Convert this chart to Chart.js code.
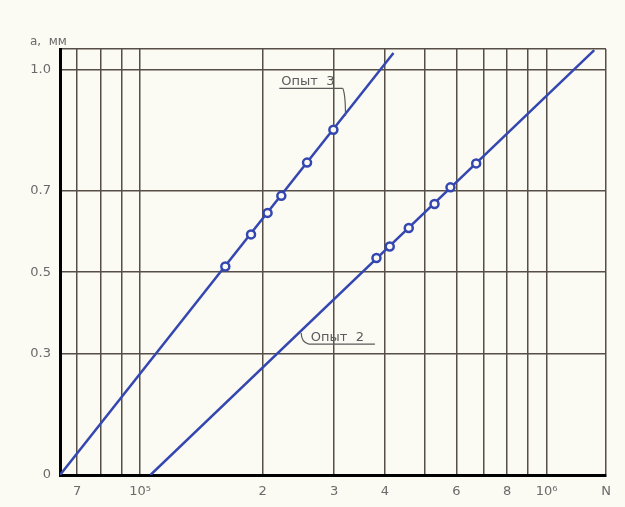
<!DOCTYPE html>
<html>
<head>
<meta charset="utf-8">
<script src="https://cdn.jsdelivr.net/npm/chart.js@4.4.1/dist/chart.umd.min.js"></script>
<style>
  html, body { margin: 0; background: #fbfaf3; }
  canvas { display: block; }
</style>
</head>
<body>
<canvas id="chart" width="625" height="507"></canvas>
<script>
// tick positions and labels
const xTicks = [7e4, 8e4, 9e4, 1e5, 2e5, 3e5, 4e5, 5e5, 6e5, 7e5, 8e5, 9e5, 1e6, 1.4e6];
const xTickLabels = ["7", "", "", "10⁵", "2", "3", "4", "", "6", "", "8", "", "10⁶", "N"];
const yTicks = [0, 0.3, 0.5, 0.7, 1.0, 1.05];
const yTickLabels = ["0", "0.3", "0.5", "0.7", "1.0", ""];

// Опыт 3 measured points
const exp3N = [1.62e5, 1.874e5, 2.058e5, 2.225e5, 2.574e5, 2.988e5];
const exp3A = [0.514, 0.593, 0.646, 0.688, 0.770, 0.851];
// Опыт 3 fitted line (end points)
const fit3N = [6.35e4, 4.2e5];
const fit3A = [0, 1.04];

// Опыт 2 measured points
const exp2N = [3.814e5, 4.112e5, 4.58e5, 5.30e5, 5.80e5, 6.71e5];
const exp2A = [0.535, 0.563, 0.609, 0.668, 0.709, 0.768];
// Опыт 2 fitted line (end points)
const fit2N = [1.06e5, 1.31e6];
const fit2A = [0, 1.047];

const toXY = (xs, ys) => xs.map((x, i) => ({ x: x, y: ys[i] }));

const blue = "#3447b0";
const gridColor = "#574e47";

// callout labels: underline from x1 to x2 at y, leader to (tx, ty)
const callouts = [
  { text: "Опыт  3", x1: 2.2e5, x2: 3.15e5, y: 0.953, tx: 3.2e5, ty: 0.885, hookAt: "end" },
  { text: "Опыт  2", x1: 2.6e5, x2: 3.78e5, y: 0.3225, tx: 2.49e5, ty: 0.35, hookAt: "start" }
];

const extras = {
  id: "extras",
  afterDatasetsDraw(chart) {
    const { ctx, scales: { x, y }, chartArea } = chart;
    ctx.save();
    ctx.fillStyle = "#5a5a5a";
    ctx.strokeStyle = "#5a5a5a";
    ctx.lineWidth = 1.2;
    ctx.font = "13px 'DejaVu Sans', sans-serif";
    ctx.textBaseline = "alphabetic";
    callouts.forEach(c => {
      const px1 = x.getPixelForValue(c.x1);
      const px2 = x.getPixelForValue(c.x2);
      const py = y.getPixelForValue(c.y);
      const tx = x.getPixelForValue(c.tx);
      const ty = y.getPixelForValue(c.ty);
      ctx.textAlign = "left";
      ctx.fillText(c.text, px1 + 2, py - 3);
      ctx.beginPath();
      ctx.moveTo(px1, py);
      ctx.lineTo(px2, py);
      ctx.stroke();
      const sx = c.hookAt === "end" ? px2 : px1;
      ctx.beginPath();
      ctx.moveTo(sx, py);
      ctx.quadraticCurveTo(tx, py + (ty - py) * 0.2, tx, ty);
      ctx.stroke();
    });
    // axis title
    ctx.font = "12px 'DejaVu Sans', sans-serif";
    ctx.fillStyle = "#6a6a6a";
    ctx.textAlign = "left";
    ctx.fillText("a,  мм", chartArea.left - 30, chartArea.top - 4);
    ctx.restore();
  }
};

new Chart(document.getElementById("chart"), {
  type: "scatter",
  data: {
    datasets: [
      {
        label: "Опыт 3",
        data: toXY(exp3N, exp3A),
        showLine: false,
        pointRadius: 4,
        pointBorderWidth: 2.5,
        pointBackgroundColor: "#fbfaf3",
        pointBorderColor: blue,
        order: 0
      },
      {
        label: "Опыт 2",
        data: toXY(exp2N, exp2A),
        showLine: false,
        pointRadius: 4,
        pointBorderWidth: 2.5,
        pointBackgroundColor: "#fbfaf3",
        pointBorderColor: blue,
        order: 0
      },
      {
        label: "fit 3",
        data: toXY(fit3N, fit3A),
        showLine: true,
        pointRadius: 0,
        borderColor: blue,
        borderWidth: 2.5,
        order: 1
      },
      {
        label: "fit 2",
        data: toXY(fit2N, fit2A),
        showLine: true,
        pointRadius: 0,
        borderColor: blue,
        borderWidth: 2.5,
        order: 1
      }
    ]
  },
  options: {
    responsive: false,
    animation: false,
    layout: { padding: { top: 49, right: 19, left: 0, bottom: 0 } },
    plugins: {
      legend: { display: false },
      tooltip: { enabled: false }
    },
    scales: {
      x: {
        type: "logarithmic",
        min: 6.35e4,
        max: 1.4e6,
        afterBuildTicks: s => { s.ticks = xTicks.map(v => ({ value: v })); },
        afterFit: s => { s.height = 32; },
        grid: { color: gridColor, lineWidth: 1.5, drawTicks: false },
        border: { color: "#000", width: 3 },
        ticks: {
          autoSkip: false,
          maxRotation: 0,
          padding: 9,
          color: "#6a6a6a",
          font: { family: "'DejaVu Sans', sans-serif", size: 13 },
          callback: (v, i) => xTickLabels[i]
        }
      },
      y: {
        type: "linear",
        min: 0,
        max: 1.05,
        afterBuildTicks: s => { s.ticks = yTicks.map(v => ({ value: v })); },
        afterFit: s => { s.width = 60; },
        grid: { color: gridColor, lineWidth: 1.5, drawTicks: false },
        border: { color: "#000", width: 3 },
        ticks: {
          autoSkip: false,
          padding: 9,
          color: "#6a6a6a",
          font: { family: "'DejaVu Sans', sans-serif", size: 13 },
          callback: (v, i) => yTickLabels[i]
        }
      }
    }
  },
  plugins: [extras]
});
</script>
</body>
</html>
